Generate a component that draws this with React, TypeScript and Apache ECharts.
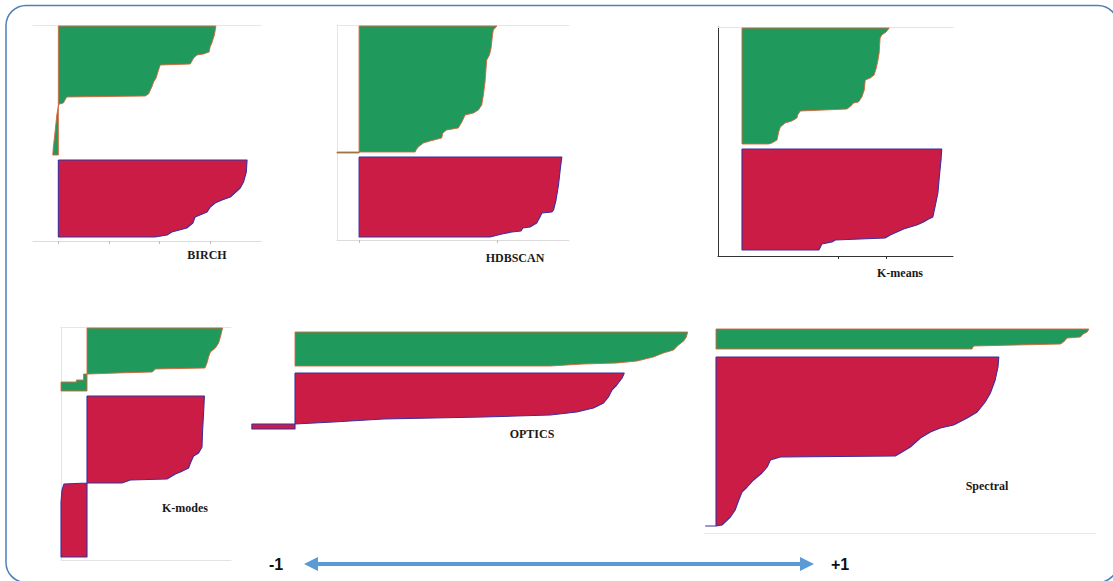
import { useEffect, useRef } from 'react';
import * as echarts from 'echarts';

type Pt = [number, number]; // [silhouette coefficient, sample rank]

// ---------- silhouette profiles (value, sample rank) ----------
const birchC0: Pt[] = [[0.622,1],[0.616,10],[0.606,18],[0.599,22],[0.595,27],[0.573,29],[0.547,30],[0.534,33],[0.521,39],[0.402,40],[0.393,47],[0.386,53],[0.376,57],[0.369,62],[0.356,69],[0.343,71],[0.033,72],[0.02,78],[0.004,79],[0,81],[-0.006,90],[-0.013,107],[-0.02,123],[-0.022,130]];
const birchC1: Pt[] = [[0.745,135],[0.742,147],[0.731,157],[0.718,163],[0.679,172],[0.646,175],[0.619,178],[0.6,182],[0.587,187],[0.54,192],[0.531,198],[0.507,203],[0.448,207],[0.429,210],[0.382,212]];

const hdbscanC0: Pt[] = [[0.499,1],[0.486,5],[0.483,10],[0.478,23],[0.472,30],[0.462,35],[0.456,57],[0.45,70],[0.444,80],[0.432,85],[0.414,88],[0.384,90],[0.372,97],[0.359,103],[0.317,105],[0.303,108],[0.299,113],[0.257,116],[0.233,118],[0.214,122],[0.206,125],[0.203,127],[0,127],[-0.08,127],[-0.08,128]];
const hdbscanC1: Pt[] = [[0.734,132],[0.728,145],[0.722,160],[0.713,175],[0.704,185],[0.698,187],[0.662,188],[0.653,193],[0.643,198],[0.619,202],[0.593,203],[0.586,206],[0.553,207],[0.517,209],[0.474,212]];

const kmeansC0: Pt[] = [[0.614,1],[0.601,5],[0.583,8],[0.576,11],[0.572,26],[0.567,33],[0.56,41],[0.551,48],[0.535,51],[0.514,53],[0.51,63],[0.5,70],[0.486,75],[0.465,76],[0.454,79],[0.438,82],[0.243,84],[0.232,88],[0.229,91],[0.208,94],[0.18,96],[0.16,100],[0.153,105],[0.146,113],[0.125,116],[0.111,117]];
const kmeansC1: Pt[] = [[0.833,122],[0.83,133],[0.823,150],[0.817,166],[0.805,180],[0.796,190],[0.778,192],[0.757,195],[0.729,198],[0.701,200],[0.674,202],[0.646,205],[0.618,208],[0.597,211],[0.389,213],[0.375,215],[0.333,217],[0.323,222],[0.319,223]];

const kmodesC0: Pt[] = [[0.678,1],[0.667,10],[0.658,16],[0.642,21],[0.617,25],[0.608,30],[0.6,36],[0.59,41],[0.34,42],[0.333,44],[0.325,45],[0.15,46],[0.01,47],[-0.017,47],[-0.017,53],[-0.053,53],[-0.053,55],[-0.13,55],[-0.13,64]];
const kmodesC1: Pt[] = [[0.587,69],[0.583,86],[0.578,103],[0.575,120],[0.558,126],[0.533,129],[0.517,136],[0.508,141],[0.467,145],[0.442,147],[0.4,152],[0.217,153],[0.175,156],[0,156],[-0.115,157],[-0.125,163],[-0.13,175],[-0.13,230]];

const opticsC0: Pt[] = [[0.892,2],[0.889,7],[0.883,11],[0.871,15],[0.86,20],[0.837,23],[0.814,27],[0.777,31],[0.731,33],[0.655,34],[0.58,36]];
const opticsC1: Pt[] = [[0.748,43],[0.743,48],[0.731,55],[0.72,60],[0.712,67],[0.701,73],[0.678,78],[0.64,82],[0.58,85],[0.428,87],[0.201,89],[0.087,92],[0,94],[-0.098,94],[-0.098,99]];

const spectralC0: Pt[] = [[0.932,4],[0.928,7],[0.918,9],[0.911,12],[0.878,13],[0.869,17],[0.861,19],[0.75,20],[0.644,21],[0.64,24]];
const spectralC1: Pt[] = [[0.707,32],[0.705,42],[0.698,55],[0.686,68],[0.673,77],[0.653,87],[0.628,93],[0.594,100],[0.561,103],[0.536,107],[0.511,113],[0.486,122],[0.461,128],[0.448,131],[0.161,132],[0.136,135],[0.128,142],[0.115,148],[0.094,155],[0.078,162],[0.065,167],[0.057,175],[0.048,185],[0.036,192],[0.015,200],[0,201],[-0.027,201]];

const methodNames = ['BIRCH', 'HDBSCAN', 'K-means', 'K-modes', 'OPTICS', 'Spectral'];
const birchTicks = [0, 0.2, 0.4, 0.6];
const hdbscanTicks = [0, 0.5];
const kmeansTicks = [0.4, 0.6];
const scaleLabels = ['-1', '+1'];

// ---------- layout / style ----------
const GREEN = '#1f995c';
const GREEN_EDGE = '#d8643c';
const RED = '#cb1c46';
const RED_EDGE = '#3a2fa0';

type Panel = {
  name: string;
  grid: { left: number; top: number; width: number; height: number };
  min: number;
  max: number;
  clusters: Pt[][];
  ticks?: number[];
  tickColor?: string;
  top?: string;
  bottom?: string;
  left?: string;
  label: [number, number];
};

const panels: Panel[] = [
  { name: methodNames[0], grid: { left: 33, top: 25, width: 228, height: 216 }, min: -0.1, max: 0.8, clusters: [birchC0, birchC1], ticks: birchTicks, tickColor: '#bbbbbb', top: '#e6e6e6', bottom: '#dcdcdc', label: [207, 255] },
  { name: methodNames[1], grid: { left: 337, top: 25, width: 232, height: 215 }, min: -0.08, max: 0.76, clusters: [hdbscanC0, hdbscanC1], ticks: hdbscanTicks, tickColor: '#bbbbbb', top: '#e6e6e6', bottom: '#dcdcdc', left: '#e6e6e6', label: [515, 258] },
  { name: methodNames[2], grid: { left: 718, top: 27, width: 235, height: 229 }, min: -0.1, max: 0.88, clusters: [kmeansC0, kmeansC1], ticks: kmeansTicks, tickColor: '#333333', top: '#e3e3e3', bottom: '#333333', left: '#333333', label: [900, 273] },
  { name: methodNames[3], grid: { left: 61, top: 327, width: 170, height: 233 }, min: -0.13, max: 0.72, clusters: [kmodesC0, kmodesC1], top: '#e6e6e6', bottom: '#e3e3e3', left: '#e3e3e3', label: [185, 508] },
  { name: methodNames[4], grid: { left: 251, top: 330, width: 449, height: 100 }, min: -0.1, max: 0.92, clusters: [opticsC0, opticsC1], label: [532, 434] },
  { name: methodNames[5], grid: { left: 704, top: 325, width: 392, height: 208 }, min: -0.03, max: 0.95, clusters: [spectralC0, spectralC1], bottom: '#e8e8e8', label: [987, 486] },
];

function buildOption(): echarts.EChartsOption {
  const grid: any[] = [];
  const xAxis: any[] = [];
  const yAxis: any[] = [];
  const series: any[] = [];
  const graphic: any[] = [];

  panels.forEach((p, i) => {
    grid.push({ ...p.grid, containLabel: false });
    const rows = Array.from({ length: p.grid.height + 1 }, (_, k) => String(k));
    const hidden = { axisLabel: { show: false }, splitLine: { show: false } };
    xAxis.push({
      type: 'value', gridIndex: i, min: p.min, max: p.max, position: 'bottom', ...hidden,
      axisLine: { show: !!p.bottom, onZero: false, lineStyle: { color: p.bottom || '#000', width: 1 } },
      axisTick: p.ticks
        ? { show: true, customValues: p.ticks, length: 3, lineStyle: { color: p.tickColor } }
        : { show: false },
    });
    xAxis.push({
      type: 'value', gridIndex: i, min: p.min, max: p.max, position: 'top', ...hidden,
      axisLine: { show: !!p.top, onZero: false, lineStyle: { color: p.top || '#000', width: 1 } },
      axisTick: { show: false },
    });
    yAxis.push({
      type: 'category', gridIndex: i, inverse: true, boundaryGap: false, data: rows, ...hidden,
      axisLine: { show: !!p.left, onZero: false, lineStyle: { color: p.left || '#000', width: 1 } },
      axisTick: { show: false },
    });
    p.clusters.forEach((c, ci) => {
      const first = c[0][1];
      const last = c[c.length - 1][1];
      series.push({
        type: 'line',
        name: `${p.name} cluster ${ci}`,
        xAxisIndex: i * 2,
        yAxisIndex: i,
        data: [[0, first], ...c, [0, last], [0, first]],
        symbol: 'none',
        showSymbol: false,
        smooth: false,
        silent: true,
        lineStyle: { color: ci === 0 ? GREEN_EDGE : RED_EDGE, width: ci === 0 ? 0.9 : 1.1 },
        areaStyle: { color: ci === 0 ? GREEN : RED, opacity: 1, origin: 0 },
      });
    });
    graphic.push({
      type: 'text', x: p.label[0], y: p.label[1], silent: true,
      style: { text: p.name, fill: '#1a1a1a', font: 'bold 12px "Liberation Serif", "Times New Roman", serif', textAlign: 'center', textVerticalAlign: 'middle' },
    });
  });

  // outer rounded frame
  graphic.push({
    type: 'rect', silent: true, z: -1,
    shape: { x: 6, y: 5.5, width: 1112, height: 577, r: 20 },
    style: { fill: 'none', stroke: '#4f7fb9', lineWidth: 1.5 },
  });

  // -1 <-> +1 scale arrow
  const ay = 564;
  const ARROW = '#5b9bd5';
  graphic.push({ type: 'line', silent: true, shape: { x1: 316, y1: ay, x2: 802, y2: ay }, style: { stroke: ARROW, lineWidth: 4 } });
  graphic.push({ type: 'polygon', silent: true, shape: { points: [[304, ay], [318, ay - 7], [318, ay + 7]] }, style: { fill: ARROW } });
  graphic.push({ type: 'polygon', silent: true, shape: { points: [[814, ay], [800, ay - 7], [800, ay + 7]] }, style: { fill: ARROW } });
  graphic.push({ type: 'text', x: 276, y: ay, silent: true, style: { text: scaleLabels[0], fill: '#111', font: 'bold 16px "Liberation Sans", Arial, sans-serif', textAlign: 'center', textVerticalAlign: 'middle' } });
  graphic.push({ type: 'text', x: 840, y: ay, silent: true, style: { text: scaleLabels[1], fill: '#111', font: 'bold 16px "Liberation Sans", Arial, sans-serif', textAlign: 'center', textVerticalAlign: 'middle' } });

  return {
    animation: false,
    backgroundColor: '#ffffff',
    grid,
    xAxis,
    yAxis,
    series,
    graphic,
  };
}

export default function App() {
  const ref = useRef<HTMLDivElement>(null);
  useEffect(() => {
    if (!ref.current) return;
    const chart = echarts.init(ref.current, undefined, { renderer: 'svg' });
    chart.setOption(buildOption());
    return () => chart.dispose();
  }, []);
  return (
    <div
      ref={ref}
      style={{ position: 'fixed', left: 0, top: 0, width: 1113, height: 581, background: '#fff' }}
    />
  );
}
